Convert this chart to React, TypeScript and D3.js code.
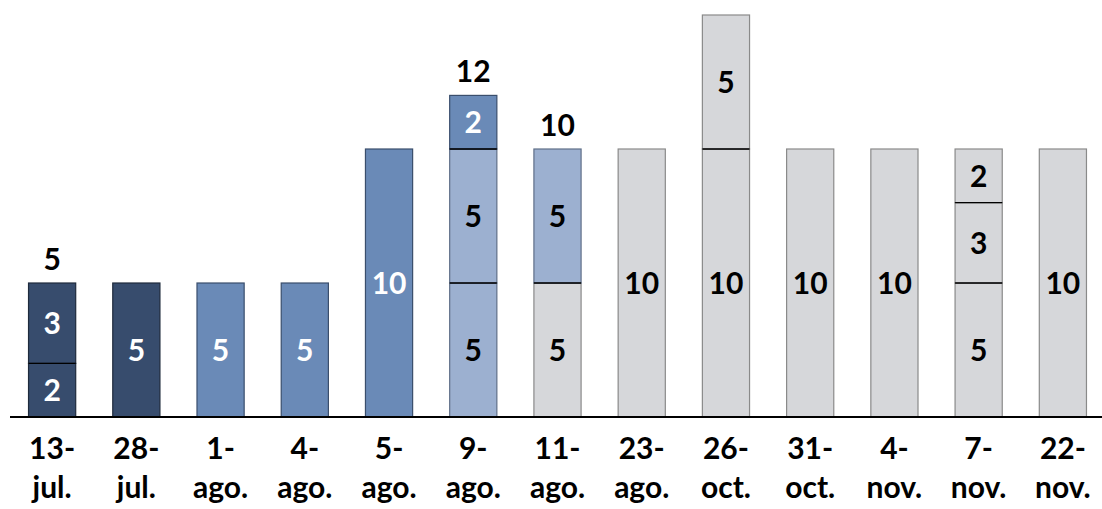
import React from "react";
import { scaleBand, scaleLinear } from "d3";

const categories = [
  ["13-", "jul."],
  ["28-", "jul."],
  ["1-", "ago."],
  ["4-", "ago."],
  ["5-", "ago."],
  ["9-", "ago."],
  ["11-", "ago."],
  ["23-", "ago."],
  ["26-", "oct."],
  ["31-", "oct."],
  ["4-", "nov."],
  ["7-", "nov."],
  ["22-", "nov."],
];

// stacked segments, bottom to top (0 = no segment)
const layer1 = [2, 5, 5, 5, 10, 5, 5, 10, 10, 10, 10, 5, 10];
const layer2 = [3, 0, 0, 0, 0, 5, 5, 0, 5, 0, 0, 3, 0];
const layer3 = [0, 0, 0, 0, 0, 2, 0, 0, 0, 0, 0, 2, 0];

// segment kind per layer: n = navy, b = blue, l = light blue, g = grey
const kind1 = ["n", "n", "b", "b", "b", "l", "g", "g", "g", "g", "g", "g", "g"];
const kind2 = ["n", "", "", "", "", "l", "l", "", "g", "", "", "g", ""];
const kind3 = ["", "", "", "", "", "b", "", "", "", "", "", "g", ""];

const totalLabels = ["5", "", "", "", "", "12", "10", "", "", "", "", "", ""];

const fills: Record<string, string> = { n: "#374c6d", b: "#6a8ab7", l: "#9cb0d0", g: "#d6d7da" };
const strokes: Record<string, string> = { n: "#1e2a3c", b: "#3a4e6c", l: "#5f6f88", g: "#8a8a8a" };
const textColor: Record<string, string> = { n: "#ffffff", b: "#ffffff", l: "#000000", g: "#000000" };

const W = 1102;
const H = 509;
const base = 417;
const font = "Lato, 'Open Sans', sans-serif";
const fs = 30;

export default function App() {
  const x = scaleBand<number>()
    .domain(categories.map((_, i) => i))
    .range([10, 1105])
    .paddingInner(0.44)
    .paddingOuter(0.22);
  const y = scaleLinear().domain([0, 15]).range([base, 15]);

  const layers = [
    { vals: layer1, kinds: kind1 },
    { vals: layer2, kinds: kind2 },
    { vals: layer3, kinds: kind3 },
  ];

  return (
    <svg
      width={W}
      height={H}
      style={{ position: "absolute", left: 0, top: 0, background: "#fff" }}
      fontFamily={font}
      fontWeight="bold"
    >
      {categories.map((cat, i) => {
        const bx = x(i)!;
        const bw = x.bandwidth();
        const cx = bx + bw / 2;
        let acc = 0;
        const segs: { y0: number; y1: number; v: number; k: string }[] = [];
        layers.forEach((L) => {
          const v = L.vals[i];
          if (v > 0) {
            segs.push({ y0: acc, y1: acc + v, v, k: L.kinds[i] });
            acc += v;
          }
        });
        return (
          <g key={i}>
            {segs.map((s, j) => (
              <g key={j}>
                <rect
                  x={bx}
                  y={y(s.y1)}
                  width={bw}
                  height={y(s.y0) - y(s.y1)}
                  fill={fills[s.k]}
                  stroke={strokes[s.k]}
                  strokeWidth={1.2}
                />
                {j > 0 && (
                  <line x1={bx} x2={bx + bw} y1={y(s.y0)} y2={y(s.y0)} stroke="#000" strokeWidth={1.3} />
                )}
                <text
                  x={cx}
                  y={(y(s.y0) + y(s.y1)) / 2}
                  dy="0.36em"
                  textAnchor="middle"
                  fontSize={fs}
                  fill={textColor[s.k]}
                >
                  {s.v}
                </text>
              </g>
            ))}
            {totalLabels[i] && (
              <text x={cx} y={y(acc) - 24} dy="0.36em" textAnchor="middle" fontSize={fs} fill="#000">
                {totalLabels[i]}
              </text>
            )}
            <text x={cx} y={459} textAnchor="middle" fontSize={fs} fill="#000">
              {cat[0]}
            </text>
            <text x={cx} y={498} textAnchor="middle" fontSize={fs} fill="#000">
              {cat[1]}
            </text>
          </g>
        );
      })}
      <line x1={10} x2={W} y1={base} y2={base} stroke="#000" strokeWidth={2} />
    </svg>
  );
}
